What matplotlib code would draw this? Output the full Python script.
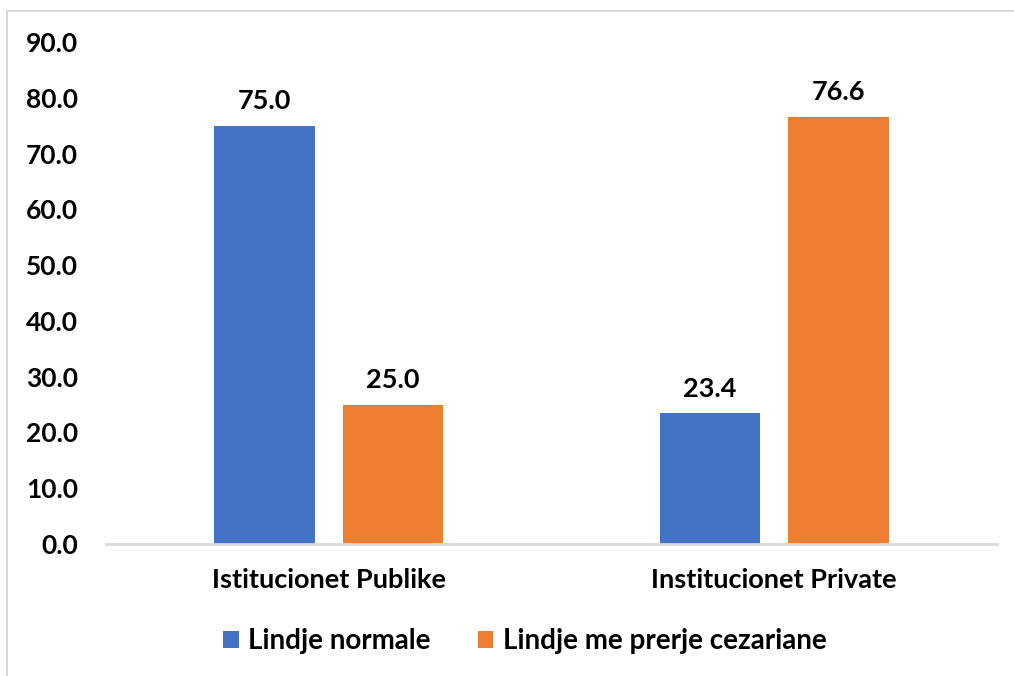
import numpy as np
import matplotlib
matplotlib.use("Agg")
import matplotlib.pyplot as plt
import matplotlib.patches as mpatches
from matplotlib.ticker import FormatStrFormatter

categories = ["Istitucionet Publike", "Institucionet Private"]
series_names = ["Lindje normale", "Lindje me prerje cezariane"]
normale = [75.0, 23.4]
cezariane = [25.0, 76.6]
colors = ["#4472C4", "#ED7D31"]

plt.rcParams['font.family'] = ['Lato', 'DejaVu Sans']
plt.rcParams['font.weight'] = 'bold'

fig = plt.figure(figsize=(10.14, 6.76), dpi=100)
# light frame around the chart area, like the excel export
fig.patches.append(mpatches.Rectangle((7 / 1014, -0.2), 1.2, 1.2 - 11 / 676,
                                      transform=fig.transFigure, fill=False,
                                      edgecolor="#D9D9D9", linewidth=1.5))
ax = fig.add_axes([106 / 1014, 1 - 544 / 676, (997 - 106) / 1014, (544 - 42) / 676])

x = np.arange(len(categories))
width = 0.225
off = 0.144
bars1 = ax.bar(x - off, normale, width, color=colors[0], label=series_names[0])
bars2 = ax.bar(x + off, cezariane, width, color=colors[1], label=series_names[1])

for bars in (bars1, bars2):
    for b in bars:
        ax.annotate("%.1f" % b.get_height(), (b.get_x() + b.get_width() / 2, b.get_height()),
                    xytext=(0, 9), textcoords="offset points", ha="center", va="bottom",
                    fontsize=19.5, fontweight="bold")

ax.set_xlim(-0.5, 1.5)
ax.set_ylim(0, 90)
ax.set_yticks(np.arange(0, 91, 10))
ax.yaxis.set_major_formatter(FormatStrFormatter("%.1f"))
ax.set_xticks(x)
ax.set_xticklabels(categories)
ax.tick_params(axis="y", length=0, pad=20, labelsize=19)
ax.tick_params(axis="x", length=0, pad=17, labelsize=19.5)
for s in ["left", "right", "top"]:
    ax.spines[s].set_visible(False)
ax.spines["bottom"].set_color("#D9D9D9")
ax.spines["bottom"].set_linewidth(2)

fig.legend(handles=[bars1, bars2], loc="center", bbox_to_anchor=(525 / 1014, 1 - 641 / 676),
           ncol=2, frameon=False, fontsize=20, handlelength=0.55, handleheight=0.55,
           handletextpad=0.35, columnspacing=1.7)

fig.savefig("out.png", dpi=100)
